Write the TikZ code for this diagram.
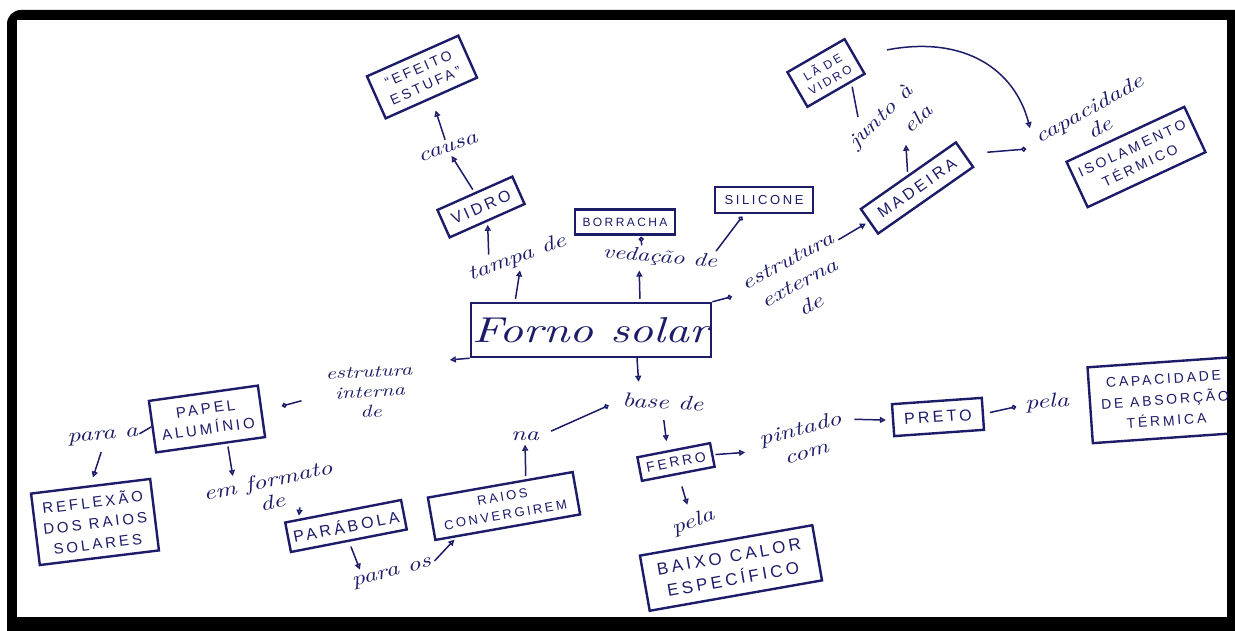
\documentclass[tikz,border=0pt]{standalone}
\usepackage{fontspec}
\usetikzlibrary{arrows.meta,calc}
\newfontfamily\hcaps[LetterSpace=20]{Liberation Sans}
\newfontfamily\hscript[FakeStretch=1.3]{lmroman10-italic.otf}
\definecolor{ink}{RGB}{28,28,105}
\newcommand{\bxf}[2]{\hcaps\fontsize{#1}{#2}\selectfont}
\newcommand{\lbf}[2]{\hscript\fontsize{#1}{#2}\selectfont}
\begin{document}
\begin{tikzpicture}[x=1pt,y=-1pt,
 box/.style={draw=ink,line width=2.4pt,text=ink,align=center,inner sep=2pt},
 lbl/.style={text=ink,align=center,inner sep=1pt,font=\lbf{20}{24}},
 arr/.style={draw=ink,line width=1.5pt,-{Triangle[open,length=6pt,width=6pt]},shorten >=3pt,shorten <=3pt},
 carr/.style={draw=ink,line width=1.5pt,-{Circle[open,length=5pt]},shorten >=3pt,shorten <=3pt},
 ln/.style={draw=ink,line width=1.5pt}]
\useasboundingbox (0,0) rectangle (1235,631);
\fill[white] (0,0) rectangle (1235,631);
\fill[black] (7,631) -- (7,24) arc[start angle=180,end angle=270,radius=14] -- (1235,10) -- (1235,631) -- cycle;
\fill[white] (17,20) rectangle (1227,617);
\begin{scope}
\clip (17,20) rectangle (1227,617);
% central node
\node[box,minimum width=238pt,minimum height=54pt,font=\lbf{36}{38}] (forno) at (591,330) {Forno solar};
% upper left branch
\node[box,rotate=24,minimum width=100pt,minimum height=46pt,font=\bxf{14}{18}] (efeito) at (422,77) {“EFEITO\\ESTUFA”};
\node[box,rotate=24,minimum width=82pt,minimum height=30pt,font=\bxf{16}{18}] (vidro) at (481,207) {VIDRO};
\node[lbl,rotate=20] (causa) at (448,148) {causa};
\node[lbl,rotate=20] (tampa) at (517,258) {tampa de};
% upper middle
\node[box,minimum width=100pt,minimum height=25pt,font=\bxf{12}{13}] (borracha) at (625,222) {BORRACHA};
\node[lbl,rotate=-5,font=\lbf{19}{22}] (vedacao) at (660,258) {vedação de};
\node[box,minimum width=98pt,minimum height=26pt,font=\bxf{13}{14}] (silicone) at (764,200) {SILICONE};
% upper right
\node[lbl,rotate=28,font=\lbf{20}{25}] (estext) at (799,283) {estrutura\\externa\\de};
\node[box,rotate=35,minimum width=116pt,minimum height=30pt,font=\bxf{16}{17}] (madeira) at (917,188) {MADEIRA};
\node[lbl,rotate=45,align=right,font=\lbf{20}{28}] (junto) at (890,126) {junto à\\ela};
\node[box,rotate=30,minimum width=66pt,minimum height=40pt,font=\bxf{12}{15}] (la) at (826,73) {LÃ DE\\VIDRO};
\node[lbl,rotate=29,font=\lbf{20}{22}] (capde) at (1094,118) {capacidade\\de};
\node[box,rotate=25,minimum width=130pt,minimum height=50pt,font=\bxf{14}{19}] (isol) at (1136,157) {ISOLAMENTO\\TÉRMICO};
% left
\node[lbl,rotate=3,font=\lbf{17}{20}] (estint) at (370,392) {estrutura\\interna\\de};
\node[box,rotate=8,minimum width=110pt,minimum height=52pt,font=\bxf{15}{20}] (papel) at (207,419) {PAPEL\\ALUMÍNIO};
\node[lbl,rotate=5] (paraa) at (103,437) {para a};
\node[box,rotate=7,minimum width=120pt,minimum height=72pt,font=\bxf{15}{21}] (reflex) at (95,522) {REFLEXÃO\\DOS RAIOS\\SOLARES};
\node[lbl,rotate=12,font=\lbf{20}{22}] (formato) at (270,491) {em formato\\de};
\node[box,rotate=11,minimum width=118pt,minimum height=30pt,font=\bxf{16}{17}] (parab) at (346,526) {PARÁBOLA};
\node[lbl,rotate=15] (paraos) at (392,574) {para os};
\node[box,rotate=10,minimum width=147pt,minimum height=43pt,font=\bxf{13}{18}] (raios) at (504,506) {RAIOS\\CONVERGIREM};
\node[lbl] (na) at (525,436) {na};
% lower right
\node[lbl,rotate=-3] (base) at (663,402) {base de};
\node[box,rotate=11,minimum width=74pt,minimum height=24pt,font=\bxf{14}{15}] (ferro) at (676,462) {FERRO};
\node[lbl,rotate=20] (pela1) at (693,522) {pela};
\node[box,rotate=10,minimum width=175pt,minimum height=56pt,font=\bxf{17}{23}] (baixo) at (731,568) {BAIXO CALOR\\ESPECÍFICO};
\node[lbl,rotate=15,font=\lbf{20}{24}] (pintado) at (803,440) {pintado\\com};
\node[box,rotate=4,minimum width=90pt,minimum height=32pt,font=\bxf{16}{18}] (preto) at (938,417) {PRETO};
\node[lbl,rotate=5] (pela2) at (1047,403) {pela};
\node[box,rotate=4,minimum width=150pt,minimum height=76pt,font=\bxf{14}{21}] (capabs) at (1165,400) {CAPACIDADE\\DE ABSORÇÃO\\TÉRMICA};
% connectors
\draw[arr] ([xshift=-76pt]forno.north) -- (tampa.south);
\draw[arr] ($(tampa.north)!0.5!(tampa.north west)$) -- (vidro.south);
\draw[arr] (vidro.north) -- (causa.south);
\draw[arr,shorten >=12pt] (causa.north) -- (efeito.south);
\draw[arr] ([xshift=49pt]forno.north) -- ([xshift=-20pt]vedacao.south);
\draw[carr,shorten >=1pt] ([xshift=-19pt]vedacao.north) -- ([xshift=16pt]borracha.south);
\draw[carr] ([xshift=-5pt]vedacao.north east) -- ([xshift=-20pt]silicone.south);
\draw[carr,shorten <=0pt,shorten >=14pt] (forno.north east) -- ($(estext.west)!0.5!(estext.north west)$);
\draw[arr] ($(estext.north east)!0.4!(estext.east)$) -- (madeira.west);
\draw[arr] (madeira.north) -- (junto.south);
\draw[ln,shorten <=4pt,shorten >=8pt] ($(la.south)!0.5!(la.south east)$) -- ($(junto.north west)!0.5!(junto.north)$);
\draw[arr,shorten <=32pt] (la.east) .. controls (965,35) and (1015,70) .. (capde.north west);
\draw[carr,shorten <=22pt,shorten >=14pt] (madeira.east) -- (capde.west);
\draw[arr,shorten <=0pt,shorten >=37pt] (forno.south west) -- (estint.north east);
\draw[carr,shorten <=25pt,shorten >=20pt] (estint.west) -- (papel.east);
\draw[ln,shorten <=0pt,shorten >=0pt] (paraa.east) -- (papel.west);
\draw[arr,shorten <=8pt,shorten >=8pt] (paraa.south) -- (reflex.north);
\draw[arr] ($(papel.south)!0.3!(papel.south east)$) -- ($(formato.north west)!0.5!(formato.north)$);
\draw[arr] ($(formato.south)!0.4!(formato.south east)$) -- ($(parab.north west)!0.25!(parab.north)$);
\draw[arr,shorten <=5pt,shorten >=5pt] (parab.south) -- ($(paraos.north west)!0.3!(paraos.north)$);
\draw[arr] (paraos.east) -- ($(raios.south west)!0.15!(raios.south east)$);
\draw[arr] ($(raios.north)!0.35!(raios.north east)$) -- (na.south);
\draw[carr,shorten <=12pt,shorten >=14pt] (na.east) -- (base.west);
\draw[arr,shorten <=0pt,shorten >=12pt] ([xshift=46pt]forno.south) -- ([xshift=-24pt]base.north);
\draw[arr,shorten <=10pt,shorten >=8pt] (base.south) -- ([xshift=-6pt]ferro.north);
\draw[arr,shorten <=12pt,shorten >=8pt] (ferro.south) -- (pela1.north);
\draw[arr,shorten <=2pt,shorten >=16pt] (ferro.east) -- (pintado.west);
\draw[arr,shorten <=12pt,shorten >=6pt] ($(pintado.north east)!0.5!(pintado.east)$) -- (preto.west);
\draw[carr,shorten <=6pt,shorten >=8pt] (preto.east) -- (pela2.west);
\end{scope}
\end{tikzpicture}
\end{document}
